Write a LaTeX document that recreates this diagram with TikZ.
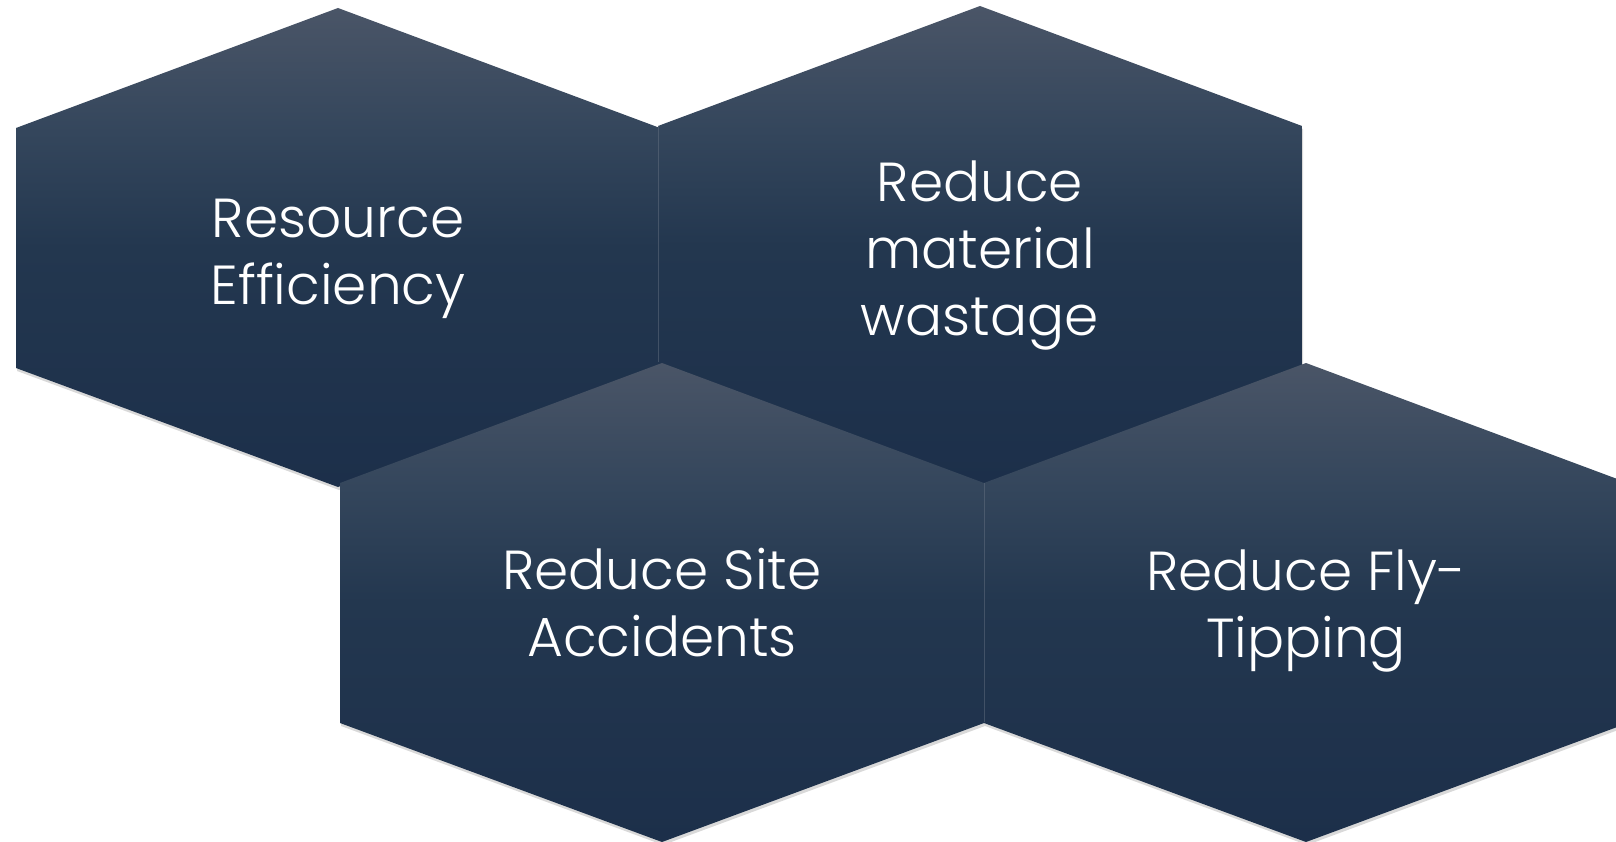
\documentclass[tikz,border=0pt]{standalone}
\usepackage{fontspec}
\setmainfont{Poppins}[UprightFont={* Light}]
\usetikzlibrary{shadows}
\definecolor{hextop}{HTML}{4A5567}
\definecolor{hexup}{HTML}{34465C}
\definecolor{hexmid}{HTML}{23374F}
\definecolor{hexbot}{HTML}{1C2F4A}
\definecolor{seam}{HTML}{6B7686}
\pgfdeclareverticalshading{hexshade}{100bp}{color(0bp)=(hexbot); color(25bp)=(hexbot); color(50bp)=(hexmid); color(62bp)=(hexup); color(75bp)=(hextop); color(100bp)=(hextop)}
\tikzset{
  hexstyle/.style={shading=hexshade, drop shadow={opacity=0.3, shadow xshift=1pt, shadow yshift=-3pt}},
  seamline/.style={draw=seam, line width=0.8pt, opacity=0.45},
  lbl/.style={text=white, align=center, font=\fontsize{55}{67}\selectfont}
}
\newcommand\drawhex[2]{%
  \shade[hexstyle] (#1,#2) ++(0,-239) -- ++(322,120) -- ++(0,240) -- ++(-322,119) -- ++(-322,-119) -- ++(0,-240) -- cycle;}
\begin{document}
\begin{tikzpicture}[x=1pt,y=-1pt]
\useasboundingbox (0,0) rectangle (1616,842);
\drawhex{338}{247}
\drawhex{980}{245}
\path[seamline] (658,126) -- (658,362);
\drawhex{662}{602}
\drawhex{1306}{602}
\path[seamline] (984,483) -- (984,722);
\node[lbl] (t1) at (338,259) {Resource\\Efficiency};
\node[lbl] (t2) at (980,256) {Reduce\\material\\wastage};
\node[lbl] (t3) at (662,603) {Reduce Site\\Accidents};
\node[lbl] (t4) at (1306,611) {Reduce Fly-\\Tipping};
\end{tikzpicture}
\end{document}
